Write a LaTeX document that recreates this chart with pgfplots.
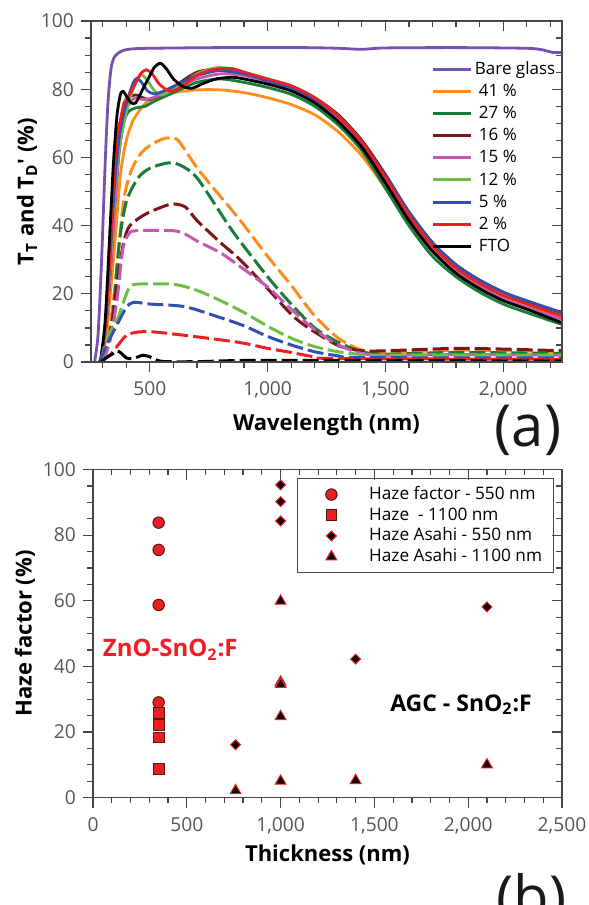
\documentclass[border=0pt]{standalone}
\usepackage{fontspec}
\setmainfont{Open Sans}
\usepackage{pgfplots}
\pgfplotsset{compat=1.18}

\definecolor{cpurple}{RGB}{118,82,176}
\definecolor{corange}{RGB}{255,140,25}
\definecolor{cdkgreen}{RGB}{25,125,55}
\definecolor{cmaroon}{RGB}{125,20,25}
\definecolor{cmagenta}{RGB}{195,90,175}
\definecolor{cltgreen}{RGB}{110,190,70}
\definecolor{cblue}{RGB}{50,80,175}
\definecolor{cred}{RGB}{240,30,35}
\definecolor{mkred}{RGB}{232,32,36}
\definecolor{mkedge}{RGB}{90,20,20}
\definecolor{axisgray}{RGB}{70,70,70}
\definecolor{tickgray}{RGB}{85,85,85}

\pgfplotsset{
  base/.style={
    scale only axis, anchor=north west,
    axis line style={draw=axisgray, line width=0.6pt},
    every tick/.style={draw=axisgray, line width=0.6pt},
    major tick length=5pt, minor tick length=2.8pt,
    tick label style={font=\fontsize{9.6}{11}\selectfont, text=tickgray},
    xticklabel style={yshift=-1.5pt},
    /pgf/number format/assume math mode=true,
    /pgf/number format/1000 sep={,},
    scaled ticks=false,
    label style={font=\bfseries\fontsize{11}{13}\selectfont},
  },
  mirror/.style={
    base, xtick pos=right, ytick pos=right, tick align=inside,
    xticklabels={}, yticklabels={},
  },
  tt/.style={line width=1.4pt, smooth, tension=0.45},
  td/.style={line width=1.5pt, smooth, tension=0.45, dash pattern=on 8pt off 2.5pt, forget plot},
}

\begin{document}
\begin{tikzpicture}
\useasboundingbox (0,0) rectangle (294.5pt,-452.5pt);

% (a) total and diffuse transmittance
\begin{axis}[base, at={(45.5pt,-10.5pt)}, width=235.5pt, height=170.5pt,
  xmin=250, xmax=2250, ymin=0, ymax=100,
  xtick={500,1000,1500,2000}, minor xtick={300,400,...,2200},
  ytick={0,20,...,100}, minor ytick={5,10,...,95},
  xtick pos=left, ytick pos=left, tick align=outside,
  xlabel={Wavelength (nm)},
  ylabel={T\textsubscript{T} and T\textsubscript{D}\textquotesingle{} (\%)},
  xlabel style={at={(axis description cs:0.5,-0.183)}, anchor=center},
  ylabel style={at={(axis description cs:-0.136,0.5)}, anchor=center},
  legend style={at={(0.723,0.887)}, anchor=north west, draw=none, fill=none,
    font=\fontsize{8.5}{9.5}\selectfont, row sep=0.95pt, inner sep=0pt,
    nodes={inner sep=1pt, text depth=1.8pt, text height=6.3pt}},
  legend cell align=left,
  legend image code/.code={\draw[#1, line width=1.5pt] (0pt,0.3pt) -- (19pt,0.3pt);},
]
\addplot[tt, cpurple] coordinates {(265,0)(280,8)(295,30)(310,58)(322,76)(335,86)(350,89.5)(380,91.2)(420,91.8)(500,92)(800,92.2)(1150,92.2)(1300,92)(1400,91.7)(1500,92.1)(1800,92.2)(2100,92)(2170,91.5)(2210,90.8)(2250,90.8)};
\addlegendentry{Bare glass}
\addplot[tt, corange] coordinates {(295,0)(315,8)(335,22)(355,38)(375,55)(400,65)(430,71)(470,75)(500,76.8)(600,79)(700,79.8)(800,79.8)(900,79)(1000,77.5)(1100,75.5)(1200,72.5)(1300,67.5)(1400,60.5)(1500,51)(1600,41)(1700,32.5)(1800,26.5)(1900,22)(2000,18.5)(2100,16)(2250,13)};
\addlegendentry{\hspace{2pt}41 \%}
\addplot[tt, cdkgreen] coordinates {(290,0)(310,8)(330,25)(350,45)(370,62)(390,70.5)(410,73.5)(440,74.5)(480,75)(520,76.5)(600,79)(700,82)(800,83)(900,82)(1000,80.5)(1100,78.5)(1200,75)(1300,69.5)(1400,62)(1500,51)(1600,40)(1700,31)(1800,25)(1900,20.5)(2000,17)(2100,14.5)(2250,11)};
\addlegendentry{\hspace{2pt}27 \%}
\addplot[tt, cmaroon] coordinates {(290,0)(310,8)(330,25)(350,46)(370,64)(390,73)(410,77.5)(440,78.3)(470,77.5)(500,77)(550,78.5)(600,80.5)(650,83)(700,85)(750,85.7)(800,85.5)(900,84.5)(1000,82.5)(1100,80.5)(1200,77.5)(1300,72.5)(1400,65)(1500,55)(1600,44)(1700,35)(1800,28.5)(1900,24)(2000,20.5)(2100,17.5)(2250,14.3)};
\addlegendentry{\hspace{2pt}16 \%}
\addplot[tt, cmagenta] coordinates {(290,0)(310,8)(330,25)(350,45)(370,62)(390,71)(410,75.5)(437,77.4)(470,77)(500,77.2)(550,78.5)(600,80)(700,83)(800,84.5)(900,84)(1000,82)(1100,80)(1200,76.5)(1300,71)(1400,63.5)(1500,53)(1600,42)(1700,33)(1800,26.5)(1900,22)(2000,18.5)(2100,16)(2250,12.5)};
\addlegendentry{\hspace{2pt}15 \%}
\addplot[tt, cltgreen] coordinates {(290,0)(310,10)(330,28)(350,50)(370,63)(390,70)(410,76)(440,82)(465,84.2)(490,82.5)(520,79.5)(550,78.3)(600,80)(700,84.5)(780,86.3)(850,86)(900,85)(1000,83)(1100,81)(1200,77.5)(1300,72)(1400,64.5)(1500,54)(1600,43)(1700,34)(1800,27.5)(1900,23)(2000,19.5)(2100,17)(2250,13.5)};
\addlegendentry{\hspace{2pt}12 \%}
\addplot[tt, cblue] coordinates {(290,0)(310,10)(330,30)(350,52)(370,66)(390,73)(410,78)(430,82)(445,83.2)(465,82)(490,79.5)(520,78.6)(560,79.5)(620,81.5)(700,84)(800,85.5)(900,84.5)(1000,82.5)(1100,80.5)(1200,77)(1300,72)(1400,64.5)(1500,54.5)(1600,44)(1700,35)(1800,28.5)(1900,24)(2000,20.5)(2100,18)(2250,14.5)};
\addlegendentry{\hspace{2pt}5 \%}
\addplot[tt, cred] coordinates {(290,0)(310,10)(330,30)(345,52)(360,66)(375,71)(390,76)(410,78)(430,80.5)(460,84.5)(485,85.7)(510,84.5)(540,81.5)(580,79.5)(610,79.8)(650,81.5)(700,84)(750,85.5)(800,86)(850,86)(900,85)(1000,83)(1100,81)(1200,77.5)(1300,72)(1400,64.5)(1500,54)(1600,43)(1700,34)(1800,27.5)(1900,23)(2000,19.5)(2100,17)(2250,13.5)};
\addlegendentry{\hspace{2pt}2 \%}
\addplot[tt, black] coordinates {(290,0)(310,12)(330,38)(345,58)(360,72)(375,78.5)(388,79.3)(400,78)(420,76)(440,76)(470,80)(500,84)(520,86.5)(545,87.6)(570,86)(600,83)(640,80.8)(680,80.3)(720,81.5)(780,83)(850,83.5)(900,83)(1000,81.5)(1100,79.5)(1200,76)(1300,70.5)(1400,63)(1500,52.5)(1600,41.5)(1700,32.5)(1800,26)(1900,21.5)(2000,18)(2100,15.5)(2250,11.5)};
\addlegendentry{\hspace{2pt}FTO}

% diffuse transmittance (dashed)
\addplot[td, corange] coordinates {(300,0)(340,15)(370,35)(390,48)(420,56)(460,61)(500,63.5)(550,65.3)(580,65.7)(620,65)(700,57)(800,48.5)(883,41.6)(1000,31)(1100,22.5)(1200,13.5)(1300,7)(1400,3.5)(1500,2.8)(1600,3)(1800,3.5)(2000,3.3)(2250,3)};
\addplot[td, cdkgreen] coordinates {(300,0)(340,12)(370,35)(400,47)(450,54)(500,56.8)(570,58.3)(620,58)(700,54)(850,38.5)(1000,25)(1100,17)(1200,10)(1300,5.8)(1400,3)(1500,2.3)(1800,2.8)(2250,2.5)};
\addplot[td, cmaroon] coordinates {(300,0)(330,8)(360,22)(385,34)(410,39.5)(450,42)(500,44)(590,46.3)(650,45.5)(700,41.5)(800,35)(883,30)(1000,21.5)(1100,14)(1167,10.3)(1300,4.8)(1400,3.3)(1500,3.3)(1700,3.8)(1800,4)(2000,3.8)(2250,3.3)};
\addplot[td, cmagenta] coordinates {(300,0)(330,6)(360,18)(385,33)(410,37.5)(440,38.5)(600,38.5)(650,37.5)(700,35.5)(800,32)(883,28)(1000,22)(1100,15.5)(1200,9.5)(1300,5)(1400,2.5)(1500,2)(1800,2.2)(2250,2)};
\addplot[td, cltgreen] coordinates {(290,0)(310,5)(340,10)(365,13)(385,17)(410,21.5)(440,22.8)(600,22.8)(700,21)(800,18)(900,14.5)(1000,10.5)(1100,7)(1200,4.5)(1300,3)(1400,2.2)(1500,2)(2250,2)};
\addplot[td, cblue] coordinates {(285,0)(320,5.5)(365,11.5)(400,16)(430,17.5)(500,17)(650,16.2)(800,13)(900,10.6)(1000,7.5)(1100,5)(1200,3)(1300,1.8)(1400,1.3)(2250,1.2)};
\addplot[td, cred] coordinates {(290,0)(330,2)(360,4.5)(400,7.8)(450,8.8)(520,8.8)(650,7.8)(800,6.5)(900,5.5)(1000,4)(1100,2.8)(1200,1.5)(1300,1)(2250,0.8)};
\addplot[td, black] coordinates {(290,0)(320,1.5)(345,2.5)(360,3.3)(380,2.5)(400,1.2)(430,1)(470,2)(500,1.5)(550,0.2)(700,0.1)(1000,0.5)(2250,0.3)};
\end{axis}
\begin{axis}[mirror, at={(45.5pt,-10.5pt)}, width=235.5pt, height=170.5pt,
  xmin=250, xmax=2250, ymin=0, ymax=100,
  xtick={500,1000,1500,2000}, minor xtick={300,400,...,2200},
  ytick={0,20,...,100}, minor ytick={5,10,...,95}]
\end{axis}

% (b) haze factor versus thickness
\begin{axis}[base, at={(46.5pt,-234.75pt)}, width=234.5pt, height=164pt,
  xmin=0, xmax=2500, ymin=0, ymax=100,
  xtick={0,500,...,2500}, minor xtick={100,200,...,2400},
  ytick={0,20,...,100}, minor ytick={5,10,...,95},
  xtick pos=left, ytick pos=left, tick align=outside,
  xlabel={Thickness (nm)}, ylabel={Haze factor (\%)},
  xlabel style={at={(axis description cs:0.5,-0.175)}, anchor=center},
  ylabel style={at={(axis description cs:-0.145,0.5)}, anchor=center},
  legend style={at={(0.983,0.9736)}, anchor=north east, draw=axisgray, line width=0.6pt,
    fill=white, font=\fontsize{8.6}{10}\selectfont, row sep=0.55pt,
    inner xsep=4.5pt, inner ysep=3pt,
    nodes={inner xsep=1.2pt, inner ysep=0.5pt, text depth=2pt, text height=6.8pt}},
  legend cell align=left,
  legend image code/.code={\path[draw=none, fill=none] (0pt,-3pt) rectangle (30pt,3pt); \draw[#1] plot coordinates {(12.3pt,0pt)};},
]
\addplot[only marks, mark=*, mark size=2.85pt, mark options={fill=mkred, draw=mkedge, line width=0.5pt}]
  coordinates {(350,83.8)(350,75.5)(350,58.7)(350,29)};
\addlegendentry{Haze factor - 550 nm}
\addplot[only marks, mark=square*, mark size=2.7pt, mark options={fill=mkred, draw=mkedge, line width=0.5pt}]
  coordinates {(350,25.7)(350,22)(350,18.3)(350,8.7)};
\addlegendentry{Haze~~- 1100 nm}
\addplot[only marks, mark=square*, mark size=1.75pt, mark options={rotate=45, fill=black, draw=cred, line width=0.5pt}]
  coordinates {(1000,95.3)(1000,90.2)(1000,84.3)(760,16.1)(1400,42.2)(2100,58.1)};
\addlegendentry{Haze Asahi - 550 nm}
\addplot[only marks, mark=triangle*, mark size=3.1pt, mark options={fill=black, draw=cred, line width=0.5pt}]
  coordinates {(1000,59.9)(1000,35.2)(1000,34.5)(1000,24.7)(1000,5)(760,2.1)(1400,5.2)(2100,10)};
\addlegendentry{Haze Asahi - 1100 nm}
\node[anchor=west, text=cred, font=\bfseries\fontsize{12}{14}\selectfont] at (axis cs:15,45) {ZnO-SnO\textsubscript{2}:F};
\node[anchor=center, font=\bfseries\fontsize{11.5}{13}\selectfont] at (axis cs:1962,28.3) {AGC - SnO\textsubscript{2}:F};
\end{axis}
\begin{axis}[mirror, at={(46.5pt,-234.75pt)}, width=234.5pt, height=164pt,
  xmin=0, xmax=2500, ymin=0, ymax=100,
  xtick={0,500,...,2500}, minor xtick={100,200,...,2400},
  ytick={0,20,...,100}, minor ytick={5,10,...,95}]
\end{axis}

\node[font=\fontsize{29}{32}\selectfont, text=black!90] at (264pt,-215pt) {(a)};
\node[font=\fontsize{29}{32}\selectfont, text=black!90] at (265.8pt,-450pt) {(b)};
\end{tikzpicture}
\end{document}
